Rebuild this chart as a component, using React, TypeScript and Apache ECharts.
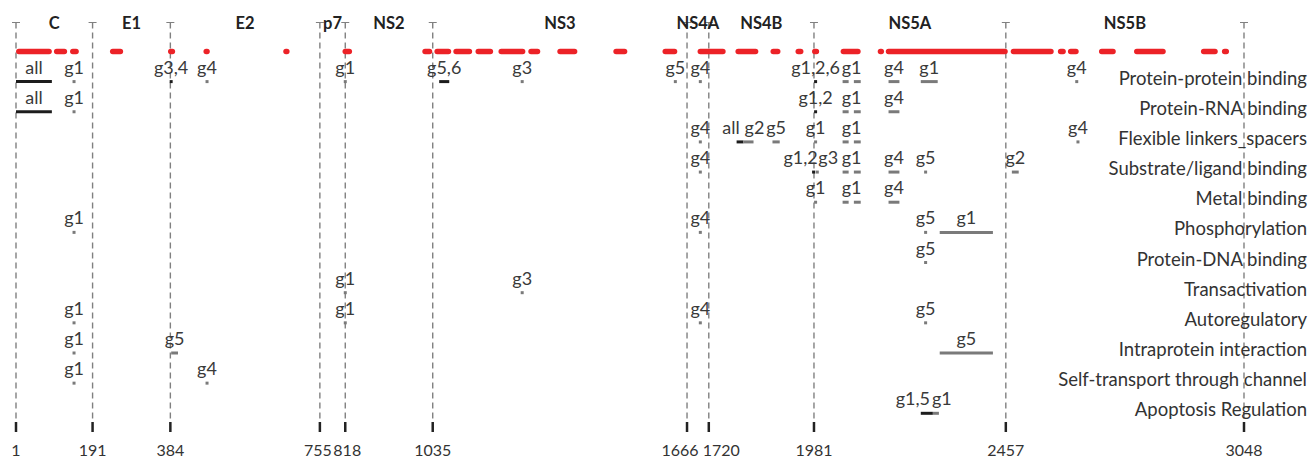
import { useEffect, useRef } from 'react';
import * as echarts from 'echarts';

// Protein boundaries along the HCV polyprotein (residue numbers)
const boundaries = [1, 191, 384, 755, 818, 1035, 1666, 1720, 1981, 2457, 3048];
const proteins = ['C', 'E1', 'E2', 'p7', 'NS2', 'NS3', 'NS4A', 'NS4B', 'NS5A', 'NS5B'];

const functionNames = [
  'Protein-protein binding',
  'Protein-RNA binding',
  'Flexible linkers_spacers',
  'Substrate/ligand binding',
  'Metal binding',
  'Phosphorylation',
  'Protein-DNA binding',
  'Transactivation',
  'Autoregulatory',
  'Intraprotein interaction',
  'Self-transport through channel',
  'Apoptosis Regulation',
];

// Predicted disordered regions [start, end]
const disorderedRegions: [number, number][] = [
  [8, 83], [102, 121], [142, 150], [241, 260], [385, 389], [473, 475], [671, 673],
  [818, 828], [1016, 1027], [1046, 1074], [1093, 1126], [1148, 1178], [1205, 1258],
  [1279, 1295], [1351, 1387], [1490, 1511], [1612, 1635], [1699, 1755], [1793, 1836],
  [1880, 1891], [1942, 1948], [1983, 1987], [2054, 2090], [2146, 2148], [2166, 2455],
  [2476, 2569], [2593, 2599], [2618, 2631], [2695, 2723], [2782, 2847], [2948, 2976],
  [3000, 3004],
];

// Functional annotations: [function row, genotype(s), residue spans]
type Annotation = [number, string, [number, number][]];
const annotations: Annotation[] = [
  // Protein-protein binding
  [0, 'all', [[1, 90]]],
  [0, 'g1', [[142, 148]]],
  [0, 'g3,4', [[383, 389]]],
  [0, 'g4', [[472, 478]]],
  [0, 'g1', [[815, 821]]],
  [0, 'g5,6', [[1051, 1076]]],
  [0, 'g3', [[1254, 1260]]],
  [0, 'g5', [[1634, 1640]]],
  [0, 'g4', [[1696, 1702]]],
  [0, 'g1,2,6', [[1982, 1988]]],
  [0, 'g1', [[2052, 2067], [2080, 2097]]],
  [0, 'g4', [[2166, 2193]]],
  [0, 'g1', [[2246, 2288]]],
  [0, 'g4', [[2630, 2636]]],
  // Protein-RNA binding
  [1, 'all', [[1, 90]]],
  [1, 'g1', [[142, 148]]],
  [1, 'g1,2', [[1982, 1988]]],
  [1, 'g1', [[2052, 2067], [2080, 2097]]],
  [1, 'g4', [[2166, 2193]]],
  // Flexible linkers_spacers
  [2, 'g4', [[1696, 1702]]],
  [2, 'all', [[1789, 1806]]],
  [2, 'g2', [[1806, 1831]]],
  [2, 'g5', [[1878, 1896]]],
  [2, 'g1', [[1982, 1988]]],
  [2, 'g1', [[2052, 2067], [2080, 2097]]],
  [2, 'g4', [[2633, 2639]]],
  // Substrate/ligand binding
  [3, 'g4', [[1696, 1702]]],
  [3, 'g1,2', [[1977, 1983]]],
  [3, 'g3', [[1985, 1993]]],
  [3, 'g1', [[2052, 2067], [2080, 2097]]],
  [3, 'g4', [[2166, 2193]]],
  [3, 'g5', [[2255, 2261]]],
  [3, 'g2', [[2472, 2489]]],
  // Metal binding
  [4, 'g1', [[1982, 1988]]],
  [4, 'g1', [[2052, 2067], [2080, 2097]]],
  [4, 'g4', [[2166, 2193]]],
  // Phosphorylation
  [5, 'g1', [[142, 148]]],
  [5, 'g4', [[1696, 1702]]],
  [5, 'g5', [[2255, 2261]]],
  [5, 'g1', [[2293, 2425]]],
  // Protein-DNA binding
  [6, 'g5', [[2255, 2261]]],
  // Transactivation
  [7, 'g1', [[815, 821]]],
  [7, 'g3', [[1254, 1260]]],
  // Autoregulatory
  [8, 'g1', [[142, 148]]],
  [8, 'g1', [[815, 821]]],
  [8, 'g4', [[1696, 1702]]],
  [8, 'g5', [[2255, 2261]]],
  // Intraprotein interaction
  [9, 'g1', [[142, 148]]],
  [9, 'g5', [[386, 403]]],
  [9, 'g5', [[2293, 2425]]],
  // Self-transport through channel
  [10, 'g1', [[142, 148]]],
  [10, 'g4', [[472, 478]]],
  // Apoptosis Regulation
  [11, 'g1,5', [[2246, 2276]]],
  [11, 'g1', [[2276, 2291]]],
];

const FONT = 'Lato, "Open Sans", sans-serif';
const Y_MIN = -1.96;
const Y_MAX = 11.62;
const DISORDER_ROW = -1;
const PROTEIN_ROW = -1.93;

// Horizontal nudges (px) for labels that would otherwise collide
const labelNudge: Record<string, number> = {
  '2:all': -9,
  '2:g2': 6,
  '3:g1,2': -13,
  '3:g3': 11,
  '11:g1,5': -14,
  '11:g1': 6,
};

// Rich-text padding that pushes crowded axis numbers apart
const tickShift: Record<number, string> = { 755: 'a', 818: 'b', 1666: 'l', 1720: 'r' };

export default function App() {
  const ref = useRef<HTMLDivElement>(null);

  useEffect(() => {
    if (!ref.current) return;
    const chart = echarts.init(ref.current, undefined, { renderer: 'svg' });

    const tickFont = { fontSize: 16, fontFamily: FONT, color: '#333' };

    const option: any = {
      animation: false,
      backgroundColor: '#ffffff',
      grid: { left: 16, right: 67, top: 22.5, bottom: 27, outerBoundsMode: 'none' },
      xAxis: {
        type: 'value',
        min: 1,
        max: 3048,
        axisLine: { show: false },
        axisTick: { show: false },
        splitLine: { show: false },
        axisLabel: {
          customValues: boundaries,
          margin: 9.5,
          ...tickFont,
          formatter: (v: number) => (tickShift[v] ? `{${tickShift[v]}|${v}}` : `${v}`),
          rich: {
            a: { padding: [0, 4, 0, 0], ...tickFont },
            b: { padding: [0, 0, 0, 4], ...tickFont },
            l: { padding: [0, 14, 0, 0], ...tickFont },
            r: { padding: [0, 0, 0, 25], ...tickFont },
          },
        },
      },
      yAxis: { type: 'value', inverse: true, min: Y_MIN, max: Y_MAX, show: false },
      series: [
        // Protein boundaries: dashed guides with a cap on top and a tick at the bottom
        {
          type: 'custom',
          data: boundaries.map((b) => [b, 0]),
          silent: true,
          renderItem: (params: any, api: any) => {
            const b = boundaries[params.dataIndex];
            const [x, yTop] = api.coord([b, Y_MIN]);
            const yBot = api.coord([b, Y_MAX])[1];
            return {
              type: 'group',
              children: [
                {
                  type: 'line',
                  shape: { x1: x, y1: yTop, x2: x, y2: yBot - 10 },
                  style: { stroke: '#808080', lineWidth: 1.4, lineDash: [6, 4] },
                },
                {
                  type: 'line',
                  shape: { x1: x - 4, y1: yTop, x2: x + 4, y2: yTop },
                  style: { stroke: '#808080', lineWidth: 1 },
                },
                {
                  type: 'line',
                  shape: { x1: x, y1: yBot - 10, x2: x, y2: yBot },
                  style: { stroke: '#222', lineWidth: 2.5 },
                },
              ],
            };
          },
        },
        // Protein names
        {
          type: 'custom',
          data: proteins.map((_, i) => [boundaries[i], boundaries[i + 1]]),
          silent: true,
          renderItem: (params: any, api: any) => {
            const i = params.dataIndex;
            const x1 = api.coord([boundaries[i], PROTEIN_ROW])[0];
            const [x2, y] = api.coord([boundaries[i + 1], PROTEIN_ROW]);
            return {
              type: 'text',
              style: {
                text: proteins[i],
                x: (x1 + x2) / 2,
                y,
                align: 'center',
                verticalAlign: 'middle',
                fontSize: 16.5,
                fontWeight: 'bold',
                fontFamily: FONT,
                fill: '#222',
              },
            };
          },
        },
        // Disordered regions
        {
          type: 'custom',
          data: disorderedRegions.map(([s, e]) => [s, e]),
          silent: true,
          renderItem: (params: any, api: any) => {
            const [s, e] = disorderedRegions[params.dataIndex];
            const p1 = api.coord([s, DISORDER_ROW]);
            const p2 = api.coord([e, DISORDER_ROW]);
            return {
              type: 'line',
              shape: { x1: p1[0], y1: p1[1], x2: p2[0], y2: p2[1] },
              style: { stroke: '#ec2227', lineWidth: 5.5, lineCap: 'round' },
            };
          },
        },
        // Functional annotations by genotype
        {
          type: 'custom',
          data: annotations.map((a) => [a[2][0][0], a[0]]),
          silent: true,
          renderItem: (params: any, api: any) => {
            const [row, label, spans] = annotations[params.dataIndex];
            const dark = label === 'all' || label.includes(',');
            const color = dark ? '#1c1c1c' : '#7a7a7a';
            const children: any[] = [];
            let minX = Infinity;
            let maxX = -Infinity;
            let yRow = 0;
            spans.forEach(([s, e]) => {
              let x1 = api.coord([s, row])[0];
              let x2 = api.coord([e, row])[0];
              yRow = api.coord([s, row])[1];
              if (x2 - x1 < 3) {
                const c = (x1 + x2) / 2;
                x1 = c - 1.5;
                x2 = c + 1.5;
              }
              minX = Math.min(minX, x1);
              maxX = Math.max(maxX, x2);
              children.push({
                type: 'line',
                shape: { x1, y1: yRow, x2, y2: yRow },
                style: { stroke: color, lineWidth: 3 },
              });
            });
            const nudge = labelNudge[`${row}:${label}`] || 0;
            children.push({
              type: 'text',
              style: {
                text: label,
                x: (minX + maxX) / 2 + nudge,
                y: yRow - 15,
                align: 'center',
                verticalAlign: 'middle',
                fontSize: 18,
                fontFamily: FONT,
                fill: '#3a3a3a',
              },
            });
            return { type: 'group', children };
          },
        },
        // Function names along the right edge
        {
          type: 'custom',
          data: functionNames.map((_, i) => [3048, i]),
          silent: true,
          renderItem: (params: any, api: any) => {
            const i = params.dataIndex;
            const y = api.coord([3048, i])[1];
            return {
              type: 'text',
              style: {
                text: functionNames[i],
                x: api.getWidth() - 4,
                y: y - 4,
                align: 'right',
                verticalAlign: 'middle',
                fontSize: 18.5,
                fontFamily: FONT,
                fill: '#333',
              },
            };
          },
        },
      ],
    };

    chart.setOption(option);
    return () => chart.dispose();
  }, []);

  return (
    <div
      ref={ref}
      style={{ position: 'fixed', left: 0, top: 0, width: 1311, height: 459, background: '#fff' }}
    />
  );
}
